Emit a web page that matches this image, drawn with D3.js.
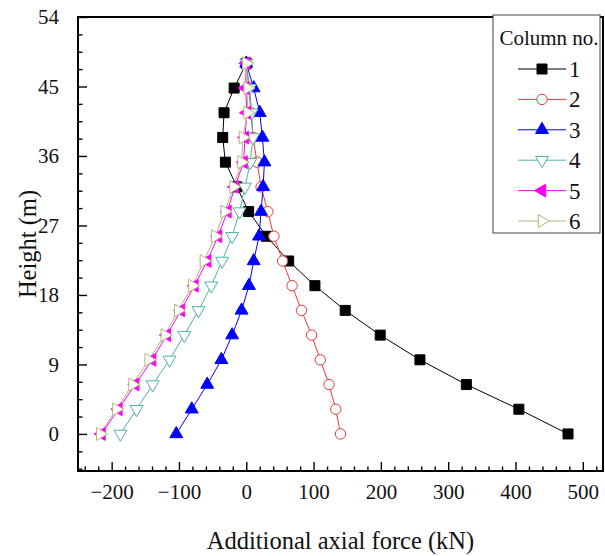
<!DOCTYPE html>
<html>
<head>
<meta charset="utf-8">
<script src="https://cdn.jsdelivr.net/npm/d3@7"></script>
<style>
  body { margin: 0; background: #fff; }
  svg text { font-family: "Liberation Serif", "Times New Roman", serif; }
</style>
</head>
<body>
<svg id="chart" width="605" height="556"></svg>
<script>
// heights of the floors (m)
const heights = [0, 3.2, 6.4, 9.6, 12.8, 16, 19.2, 22.4, 25.6, 28.8, 32, 35.2, 38.4, 41.6, 44.8, 48];

// additional axial force per column (kN), bottom to top
const col1 = [478, 405, 327, 258, 199, 147, 102, 63, 30, 3.5, -14, -31, -35, -33, -18, 0];
const col2 = [140, 133, 123, 110, 97, 82, 68, 54, 41, 32, 22, 16, 10, 7, 4, 0];
const col3 = [-104, -81, -58, -37, -21, -7, 4, 11, 19, 22, 25, 27, 24, 20, 11, 0];
const col4 = [-187, -163, -139, -114, -92, -71, -52, -36, -21, -10, -2, 6, 10, 8, 5, 0];
const col5 = [-215, -190, -165, -140, -118, -97, -77, -58, -42, -28, -17, -4, -2, 1, -1, 0];
const col6 = [-217, -193, -169, -145, -121, -101, -80, -63, -46, -32, -19, -7, -5, 2, 2, 0];

const seriesNames = ["1", "2", "3", "4", "5", "6"];
const xTicks = [-200, -100, 0, 100, 200, 300, 400, 500];
const yTicks = [0, 9, 18, 27, 36, 45, 54];

const svg = d3.select("#chart");
const pl = 78, pr = 603, pt = 17, pb = 471;

const x = d3.scaleLinear().domain([-250, 530]).range([pl, pr]);
const y = d3.scaleLinear().domain([-4.8, 54]).range([pb, pt]);

// marker look per column
const styles = [
  { color: "#000000", fill: "#000000", type: d3.symbolSquare, size: 100, rot: 0 },
  { color: "#e8393a", fill: "#ffffff", type: d3.symbolCircle, size: 85, rot: 0 },
  { color: "#0000ff", fill: "#0000ff", type: d3.symbolTriangle, size: 72, rot: 0 },
  { color: "#4fb1a8", fill: "#ffffff", type: d3.symbolTriangle, size: 72, rot: 180 },
  { color: "#ff00ff", fill: "#ff00ff", type: d3.symbolTriangle, size: 72, rot: -90 },
  { color: "#b8b47c", fill: "#ffffff", type: d3.symbolTriangle, size: 72, rot: 90 }
];

const allCols = [col1, col2, col3, col4, col5, col6];
const series = allCols.map((vals, i) => ({
  name: seriesNames[i],
  style: styles[i],
  points: vals.map((v, j) => ({ v: v, h: heights[j] }))
}));

// minor ticks
const xMinor = d3.range(-240, 530, 20).filter(v => v % 100 !== 0);
const yMinor = d3.range(-4.5, 54, 2.25).filter(v => Math.abs(v % 9) > 0.01);

// axes (ticks point inwards)
const gx = svg.append("g").attr("transform", `translate(0,${pb})`);
gx.call(d3.axisBottom(x).tickValues(xMinor).tickFormat("").tickSizeInner(-4.5).tickSizeOuter(0));
const gx2 = svg.append("g").attr("transform", `translate(0,${pb})`);
gx2.call(d3.axisBottom(x).tickValues(xTicks).tickSizeInner(-9).tickSizeOuter(0).tickPadding(13));

const gy = svg.append("g").attr("transform", `translate(${pl},0)`);
gy.call(d3.axisLeft(y).tickValues(yMinor).tickFormat("").tickSizeInner(-4.5).tickSizeOuter(0));
const gy2 = svg.append("g").attr("transform", `translate(${pl},0)`);
gy2.call(d3.axisLeft(y).tickValues(yTicks).tickSizeInner(-9).tickSizeOuter(0).tickPadding(19));

svg.selectAll(".domain").remove();
svg.selectAll(".tick line").attr("stroke", "#000").attr("stroke-width", 1.4);
svg.selectAll(".tick text")
   .attr("font-size", 21)
   .attr("fill", "#111");

// frame
svg.append("rect")
   .attr("x", pl).attr("y", pt)
   .attr("width", pr - pl).attr("height", pb - pt)
   .attr("fill", "none").attr("stroke", "#000").attr("stroke-width", 2);

// lines and markers
const line = d3.line().x(d => x(d.v)).y(d => y(d.h));

const plot = svg.append("g");
series.forEach(s => {
  plot.append("path")
      .datum(s.points)
      .attr("d", line)
      .attr("fill", "none")
      .attr("stroke", s.style.color)
      .attr("stroke-width", 1);
});
series.forEach(s => {
  const sym = d3.symbol().type(s.style.type).size(s.style.size);
  plot.append("g").selectAll("path")
      .data(s.points)
      .join("path")
      .attr("d", sym)
      .attr("transform", d => `translate(${x(d.v)},${y(d.h)}) rotate(${s.style.rot})`)
      .attr("fill", s.style.fill)
      .attr("stroke", s.style.color)
      .attr("stroke-width", 1);
});

// axis titles
svg.append("text")
   .attr("x", (pl + pr) / 2).attr("y", 549)
   .attr("text-anchor", "middle")
   .attr("font-size", 24.5)
   .attr("fill", "#111")
   .text("Additional axial force (kN)");

svg.append("text")
   .attr("transform", `translate(36,${(pt + pb) / 2}) rotate(-90)`)
   .attr("text-anchor", "middle")
   .attr("font-size", 24.5)
   .attr("fill", "#111")
   .text("Height (m)");

// legend
const lg = svg.append("g");
lg.append("rect")
  .attr("x", 493).attr("y", 15).attr("width", 107).attr("height", 218)
  .attr("fill", "#fff").attr("stroke", "#444").attr("stroke-width", 1);
lg.append("text")
  .attr("x", 549).attr("y", 45)
  .attr("text-anchor", "middle")
  .attr("font-size", 21)
  .attr("fill", "#111")
  .text("Column no.");

const ly = d3.scaleLinear().domain([0, 5]).range([69, 221]);
series.forEach((s, i) => {
  const yy = ly(i);
  lg.append("line")
    .attr("x1", 518).attr("x2", 566).attr("y1", yy).attr("y2", yy)
    .attr("stroke", s.style.color).attr("stroke-width", 1);
  lg.append("path")
    .attr("d", d3.symbol().type(s.style.type).size(s.style.size)())
    .attr("transform", `translate(542,${yy}) rotate(${s.style.rot})`)
    .attr("fill", s.style.fill)
    .attr("stroke", s.style.color)
    .attr("stroke-width", 1);
  lg.append("text")
    .attr("x", 569).attr("y", yy + 8)
    .attr("font-size", 23)
    .attr("fill", "#111")
    .text(s.name);
});
</script>
</body>
</html>
